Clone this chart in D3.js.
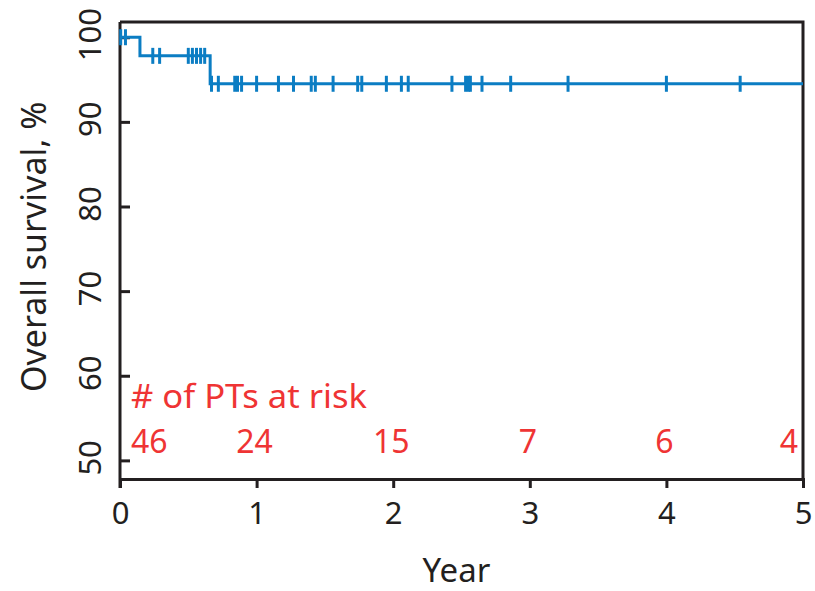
<!DOCTYPE html>
<html>
<head>
<meta charset="utf-8">
<script src="https://cdn.jsdelivr.net/npm/d3@7"></script>
<style>
  html, body { margin: 0; padding: 0; background: #fff; }
  svg text { font-family: "Noto Sans", "Liberation Sans", sans-serif; }
</style>
</head>
<body>
<svg id="chart" width="815" height="591"></svg>
<script>
// Kaplan–Meier step points: time (years) and survival (%)
const eventTimes = [0, 0.146, 0.66];
const survivalPct = [100, 97.8, 94.5];
// Censored observations (years)
const censorTimes = [0.005, 0.04, 0.24, 0.29, 0.50, 0.53, 0.56, 0.59, 0.62,
  0.67, 0.72, 0.84, 0.86, 0.89, 1.00, 1.16, 1.27, 1.40, 1.43, 1.56, 1.74, 1.77,
  1.95, 2.06, 2.11, 2.43, 2.53, 2.55, 2.565, 2.65, 2.86, 3.28, 4.00, 4.54];
// Number at risk
const riskYears = [0, 1, 2, 3, 4, 5];
const riskCounts = [46, 24, 15, 7, 6, 4];
const xTicks = [0, 1, 2, 3, 4, 5];
const yTicks = [50, 60, 70, 80, 90, 100];

const svg = d3.select("#chart");
const mLeft = 120, mRight = 803, mTop = 22, mBottom = 479;
const x = d3.scaleLinear().domain([0, 5]).range([mLeft, mRight]);
const y = d3.scaleLinear().domain([47.8, 101.8]).range([mBottom, mTop]);

const ink = "#231f20", blue = "#0b7dc3", red = "#ef3434";
const axisFont = "'Noto Sans','Liberation Sans',sans-serif";

// frame: top and right edges
svg.append("path")
  .attr("d", `M${mLeft},${mTop}H${mRight}V${mBottom}`)
  .attr("fill", "none").attr("stroke", ink).attr("stroke-width", 3);

// x axis
const xAxis = svg.append("g").attr("transform", `translate(0,${mBottom})`)
  .call(d3.axisBottom(x).tickValues(xTicks).tickFormat(d3.format("d")).tickSize(9).tickPadding(14));
xAxis.select(".domain").attr("stroke", ink).attr("stroke-width", 3);
xAxis.selectAll(".tick line").attr("stroke", ink).attr("stroke-width", 3);
xAxis.selectAll("text").attr("fill", ink).attr("font-size", 31).style("font-family", axisFont);

// y axis with inward ticks and rotated labels
const yAxis = svg.append("g").attr("transform", `translate(${mLeft},0)`)
  .call(d3.axisLeft(y).tickValues(yTicks).tickFormat(d3.format("d")).tickSizeInner(-10).tickSizeOuter(0).tickPadding(0));
yAxis.select(".domain").attr("stroke", ink).attr("stroke-width", 3)
  .attr("d", `M0,${mTop}V${mBottom + 9}`);
yAxis.selectAll(".tick line").attr("stroke", ink).attr("stroke-width", 3);
yAxis.selectAll(".tick text")
  .attr("x", null).attr("dy", null)
  .attr("transform", "translate(-19,-3) rotate(-90)")
  .attr("text-anchor", "middle")
  .attr("fill", ink).attr("font-size", 31).style("font-family", axisFont);

// axis titles
svg.append("text")
  .attr("transform", `translate(46,${y(75) - 2}) rotate(-90)`)
  .attr("text-anchor", "middle").attr("fill", ink).attr("font-size", 34)
  .style("font-family", axisFont)
  .text("Overall survival, %");
svg.append("text")
  .attr("x", x(2.5) - 5).attr("y", 582)
  .attr("text-anchor", "middle").attr("fill", ink).attr("font-size", 33)
  .style("font-family", axisFont)
  .text("Year");

// survival curve
const steps = eventTimes.map((t, i) => ({ t, s: survivalPct[i] }));
steps.push({ t: 5, s: survivalPct[survivalPct.length - 1] });
svg.append("path")
  .datum(steps)
  .attr("d", d3.line().x(d => x(d.t)).y(d => y(d.s)).curve(d3.curveStepAfter))
  .attr("fill", "none").attr("stroke", blue).attr("stroke-width", 3);

// censor marks
const survAt = t => survivalPct[d3.bisectRight(eventTimes, t) - 1];
svg.append("g").selectAll("line")
  .data(censorTimes).join("line")
  .attr("x1", d => x(d)).attr("x2", d => x(d))
  .attr("y1", d => y(survAt(d)) - 8).attr("y2", d => y(survAt(d)) + 8)
  .attr("stroke", blue).attr("stroke-width", 3);

// number at risk
svg.append("text")
  .attr("x", x(0) + 11).attr("y", 408)
  .attr("fill", red).attr("font-size", 32).style("font-family", axisFont)
  .attr("textLength", 236).attr("lengthAdjust", "spacingAndGlyphs")
  .text("# of PTs at risk");
svg.append("g").selectAll("text")
  .data(riskYears).join("text")
  .attr("x", (d, i) => i === 0 ? x(d) + 11 : i === riskYears.length - 1 ? x(d) - 5 : x(d) - 2)
  .attr("y", 453)
  .attr("text-anchor", (d, i) => i === 0 ? "start" : i === riskYears.length - 1 ? "end" : "middle")
  .attr("fill", red).attr("font-size", 32).style("font-family", axisFont)
  .text((d, i) => riskCounts[i]);
</script>
</body>
</html>
